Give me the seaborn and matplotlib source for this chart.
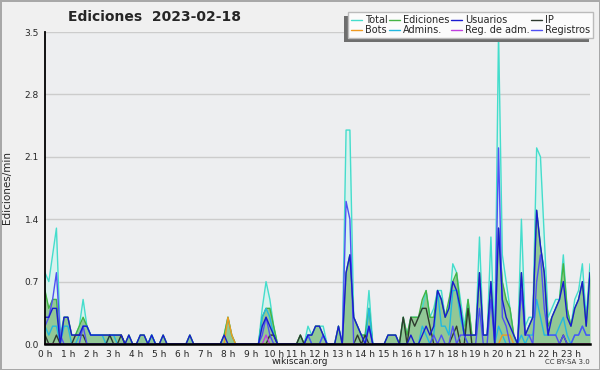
import numpy as np
import pandas as pd
import matplotlib
matplotlib.use("Agg")
import matplotlib.pyplot as plt
import seaborn as sns
from matplotlib.lines import Line2D
from matplotlib.patches import Rectangle
from matplotlib.ticker import MultipleLocator, FixedLocator

# ---------------- data (edits per minute, 10-minute bins, 00:00 -> 23:50) ----------------
minutes = list(range(0, 1440, 10))
hour_labels = [f"{h} h" for h in range(24)]

total = [0.8,0.7,1.0,1.3,0.1,0.3, 0.3,0.1,0.1,0.2,0.5,0.2, 0.1,0.1,0.1,0.1,0.1,0.1, 0.1,0.1,0.1,0.0,0.1,0.0,
         0.0,0.1,0.1,0.0,0.1,0.0, 0.0,0.1,0.0,0.0,0.0,0.0, 0.0,0.0,0.1,0.0,0.0,0.0, 0.0,0.0,0.0,0.0,0.0,0.1,
         0.3,0.1,0.0,0.0,0.0,0.0, 0.0,0.0,0.0,0.4,0.7,0.5, 0.2,0.0,0.0,0.0,0.0,0.0, 0.0,0.1,0.0,0.2,0.1,0.2,
         0.2,0.2,0.0,0.0,0.0,0.2, 0.0,2.4,2.4,0.3,0.2,0.1, 0.1,0.6,0.0,0.0,0.0,0.0, 0.1,0.1,0.1,0.0,0.3,0.1,
         0.3,0.3,0.3,0.4,0.6,0.3, 0.4,0.6,0.6,0.3,0.4,0.9, 0.8,0.5,0.2,0.5,0.1,0.1, 1.2,0.1,0.1,1.2,0.0,3.5,
         1.0,0.7,0.4,0.1,0.0,1.4, 0.2,0.3,0.3,2.2,2.1,1.2, 0.3,0.4,0.5,0.5,1.0,0.4, 0.2,0.5,0.6,0.9,0.3,0.9]

ediciones = [0.6,0.4,0.5,0.5,0.0,0.3, 0.3,0.1,0.1,0.2,0.3,0.2, 0.1,0.1,0.1,0.1,0.1,0.1, 0.1,0.1,0.1,0.0,0.1,0.0,
             0.0,0.1,0.1,0.0,0.1,0.0, 0.0,0.1,0.0,0.0,0.0,0.0, 0.0,0.0,0.1,0.0,0.0,0.0, 0.0,0.0,0.0,0.0,0.0,0.1,
             0.3,0.1,0.0,0.0,0.0,0.0, 0.0,0.0,0.0,0.3,0.4,0.4, 0.2,0.0,0.0,0.0,0.0,0.0, 0.0,0.1,0.0,0.1,0.1,0.2,
             0.2,0.1,0.0,0.0,0.0,0.2, 0.0,0.8,1.0,0.3,0.2,0.1, 0.1,0.4,0.0,0.0,0.0,0.0, 0.1,0.1,0.1,0.0,0.3,0.1,
             0.3,0.3,0.3,0.5,0.6,0.3, 0.3,0.6,0.5,0.3,0.5,0.7, 0.8,0.4,0.1,0.5,0.1,0.1, 0.8,0.1,0.1,0.7,0.0,1.3,
             0.7,0.5,0.4,0.1,0.0,0.8, 0.1,0.2,0.3,1.5,1.1,0.8, 0.2,0.3,0.4,0.5,0.9,0.4, 0.2,0.4,0.5,0.7,0.2,0.8]

usuarios = [0.3,0.3,0.4,0.4,0.0,0.3, 0.3,0.1,0.1,0.1,0.2,0.2, 0.1,0.1,0.1,0.1,0.1,0.1, 0.1,0.1,0.1,0.0,0.1,0.0,
            0.0,0.1,0.1,0.0,0.1,0.0, 0.0,0.1,0.0,0.0,0.0,0.0, 0.0,0.0,0.1,0.0,0.0,0.0, 0.0,0.0,0.0,0.0,0.0,0.1,
            0.0,0.0,0.0,0.0,0.0,0.0, 0.0,0.0,0.0,0.2,0.3,0.2, 0.1,0.0,0.0,0.0,0.0,0.0, 0.0,0.0,0.0,0.1,0.1,0.2,
            0.2,0.1,0.0,0.0,0.0,0.2, 0.0,0.8,1.0,0.3,0.2,0.1, 0.0,0.2,0.0,0.0,0.0,0.0, 0.1,0.1,0.1,0.0,0.0,0.0,
            0.1,0.0,0.0,0.1,0.2,0.1, 0.2,0.6,0.5,0.3,0.4,0.7, 0.6,0.4,0.1,0.1,0.1,0.1, 0.8,0.1,0.1,0.7,0.0,1.3,
            0.5,0.3,0.2,0.1,0.0,0.8, 0.1,0.2,0.3,1.5,1.1,0.8, 0.1,0.3,0.4,0.5,0.7,0.3, 0.2,0.4,0.5,0.7,0.2,0.8]

ip = [0.1,0.0,0.0,0.1,0.0,0.0, 0.0,0.0,0.1,0.1,0.1,0.0, 0.0,0.0,0.0,0.0,0.0,0.1, 0.0,0.0,0.1,0.0,0.0,0.0,
      0.0,0.0,0.0,0.0,0.0,0.0, 0.0,0.0,0.0,0.0,0.0,0.0, 0.0,0.0,0.0,0.0,0.0,0.0, 0.0,0.0,0.0,0.0,0.0,0.0,
      0.0,0.0,0.0,0.0,0.0,0.0, 0.0,0.0,0.0,0.0,0.0,0.1, 0.1,0.0,0.0,0.0,0.0,0.0, 0.0,0.1,0.0,0.0,0.0,0.0,
      0.0,0.0,0.0,0.0,0.0,0.0, 0.0,0.0,0.0,0.0,0.1,0.0, 0.1,0.0,0.0,0.0,0.0,0.0, 0.0,0.0,0.0,0.0,0.3,0.0,
      0.3,0.2,0.3,0.4,0.4,0.2, 0.0,0.0,0.0,0.0,0.0,0.1, 0.2,0.0,0.0,0.4,0.0,0.0, 0.0,0.0,0.0,0.0,0.0,0.0,
      0.0,0.0,0.0,0.0,0.0,0.0, 0.0,0.0,0.0,0.0,0.0,0.0, 0.0,0.0,0.0,0.0,0.1,0.0, 0.0,0.0,0.0,0.0,0.0,0.0]

bots = [0.0]*48 + [0.3,0.1] + [0.0]*70 + [0.1,0.1,0.1] + [0.0]*21

admins = [0.2,0.1,0.2,0.2,0.0,0.2, 0.2,0.0,0.0,0.1,0.2,0.2, 0.1,0.1,0.1,0.1,0.0,0.1, 0.1,0.0,0.0,0.0,0.0,0.0,
          0.0,0.0,0.0,0.0,0.1,0.0, 0.0,0.0,0.0,0.0,0.0,0.0, 0.0,0.0,0.0,0.0,0.0,0.0, 0.0,0.0,0.0,0.0,0.0,0.0,
          0.0,0.0,0.0,0.0,0.0,0.0, 0.0,0.0,0.0,0.3,0.4,0.3, 0.1,0.0,0.0,0.0,0.0,0.0, 0.0,0.0,0.0,0.1,0.0,0.0,
          0.0,0.1,0.0,0.0,0.0,0.0, 0.0,0.0,0.0,0.0,0.0,0.0, 0.0,0.4,0.0,0.0,0.0,0.0, 0.0,0.0,0.0,0.0,0.0,0.0,
          0.0,0.0,0.0,0.2,0.1,0.0, 0.1,0.6,0.2,0.2,0.1,0.6, 0.6,0.3,0.1,0.0,0.0,0.0, 0.0,0.0,0.0,0.0,0.0,0.2,
          0.1,0.0,0.0,0.0,0.0,0.1, 0.0,0.1,0.1,0.5,0.3,0.1, 0.1,0.1,0.1,0.2,0.3,0.1, 0.0,0.1,0.1,0.2,0.1,0.1]

reg_adm = [0.0]*58 + [0.1] + [0.0]*85

registros = [0.2,0.3,0.5,0.8,0.1,0.0, 0.0,0.0,0.0,0.0,0.2,0.0, 0.0,0.0,0.0,0.0,0.0,0.0, 0.0,0.0,0.0,0.0,0.0,0.0,
             0.0,0.0,0.0,0.0,0.0,0.0, 0.0,0.0,0.0,0.0,0.0,0.0, 0.0,0.0,0.0,0.0,0.0,0.0, 0.0,0.0,0.0,0.0,0.0,0.0,
             0.0,0.0,0.0,0.0,0.0,0.0, 0.0,0.0,0.0,0.1,0.3,0.1, 0.0,0.0,0.0,0.0,0.0,0.0, 0.0,0.0,0.0,0.1,0.0,0.0,
             0.0,0.1,0.0,0.0,0.0,0.0, 0.0,1.6,1.4,0.0,0.0,0.0, 0.0,0.2,0.0,0.0,0.0,0.0, 0.0,0.0,0.0,0.0,0.0,0.0,
             0.0,0.0,0.0,0.0,0.0,0.0, 0.1,0.0,0.1,0.0,0.0,0.2, 0.0,0.1,0.1,0.0,0.0,0.0, 0.4,0.0,0.0,0.5,0.0,2.2,
             0.3,0.2,0.0,0.0,0.0,0.6, 0.1,0.1,0.0,0.7,1.0,0.4, 0.1,0.1,0.1,0.0,0.1,0.0, 0.0,0.1,0.1,0.2,0.1,0.1]

df = pd.DataFrame({
    "hora": np.array(minutes) / 60.0,
    "Total": total, "Ediciones": ediciones, "Usuarios": usuarios, "IP": ip,
    "Bots": bots, "Admins.": admins, "Reg. de adm.": reg_adm, "Registros": registros,
})

colors = {
    "Total": "#44ddcc", "Ediciones": "#44b444", "Usuarios": "#1a1ad0", "IP": "#2e3a2e",
    "Bots": "#f09a20", "Admins.": "#22b8e0", "Reg. de adm.": "#c040e0", "Registros": "#5050f4",
}

# ---------------- figure ----------------
sns.set_style("white")
plt.rcParams["font.family"] = ["DejaVu Sans"]

fig = plt.figure(figsize=(6.0, 3.7), dpi=100, facecolor="#f0f0f0",
                 edgecolor="#a8a8a8", linewidth=2)
ax = fig.add_axes([45/600, 26/370, 545/600, 312/370])
ax.set_facecolor("#edeef0")

x = df["hora"]
ax.fill_between(x, 0, df["Total"], color="#d8f2ee", lw=0, zorder=1)
ax.fill_between(x, 0, df["Ediciones"], color="#92c896", lw=0, zorder=2)

order = ["Total", "Ediciones", "Admins.", "IP", "Bots", "Reg. de adm.", "Registros", "Usuarios"]
for i, name in enumerate(order):
    sns.lineplot(x=x, y=df[name], ax=ax, color=colors[name], lw=1.0, zorder=3 + i,
                 legend=False)

ax.set_xlim(0, 143/6)
ax.set_ylim(0, 3.5)
ax.yaxis.set_major_locator(MultipleLocator(0.7))
ax.yaxis.set_minor_locator(MultipleLocator(0.35))
ax.yaxis.set_major_formatter(matplotlib.ticker.FormatStrFormatter("%.1f"))
ax.xaxis.set_major_locator(FixedLocator(list(range(24))))
ax.set_xticklabels(hour_labels)
ax.xaxis.set_minor_locator(MultipleLocator(1/6))
ax.grid(axis="y", which="major", color="#cccccc", lw=1.0)
ax.set_axisbelow(True)
for s in ["top", "right"]:
    ax.spines[s].set_visible(False)
ax.spines["left"].set_color("black")
ax.spines["left"].set_linewidth(1.3)
ax.spines["bottom"].set_color("black")
ax.spines["bottom"].set_linewidth(1.8)
ax.spines["left"].set_zorder(20)
ax.spines["bottom"].set_zorder(20)
ax.tick_params(axis="both", which="both", direction="out", color="black",
               labelsize=6.5, pad=0.5, width=1.0)
ax.tick_params(axis="x", which="major", length=3.5)
ax.tick_params(axis="x", which="minor", length=3.5)
ax.tick_params(axis="y", which="major", length=4)
ax.tick_params(axis="y", which="minor", length=2.5)
ax.set_xlabel("")
ax.set_ylabel("Ediciones/min", fontsize=7.5)
ax.yaxis.set_label_coords(-0.06, 0.5)

fig.text(154/600, 1 - 17/370, "Ediciones  2023-02-18", ha="center", va="center",
         fontsize=10, fontweight="bold")
fig.text(0.5, 1 - 362/370, "wikiscan.org", ha="center", va="center", fontsize=6.5, color="#222222")
fig.text(590/600, 1 - 362/370, "CC BY-SA 3.0", ha="right", va="center", fontsize=5, color="#333333")

# legend (4 columns, filled column by column)
leg_order = ["Total", "Bots", "Ediciones", "Admins.", "Usuarios", "Reg. de adm.", "IP", "Registros"]
handles = [Line2D([], [], color=colors[n], lw=1.0) for n in leg_order]
leg = fig.legend(handles, leg_order, ncol=4, loc="upper right",
                 bbox_to_anchor=(593/600, 1 - 12/370), fontsize=7, frameon=True,
                 fancybox=False, framealpha=1, edgecolor="#bbbbbb", facecolor="#fbfbfb",
                 handlelength=1.1, handletextpad=0.3, columnspacing=0.2, labelspacing=0.05,
                 borderpad=0.3, borderaxespad=0)
leg.set_zorder(10)

# legend shadow, offset down-left like the reference
fig.canvas.draw()
bb = leg.get_window_extent(fig.canvas.get_renderer())
W, H = fig.bbox.width, fig.bbox.height
fig.patches.append(Rectangle(((bb.x0 - 4) / W, (bb.y0 - 4) / H), bb.width / W, bb.height / H,
                             transform=fig.transFigure, facecolor="#6e6e6e",
                             edgecolor="none", zorder=5))

fig.savefig("out.png", dpi=100, facecolor=fig.get_facecolor(), edgecolor=fig.get_edgecolor())
